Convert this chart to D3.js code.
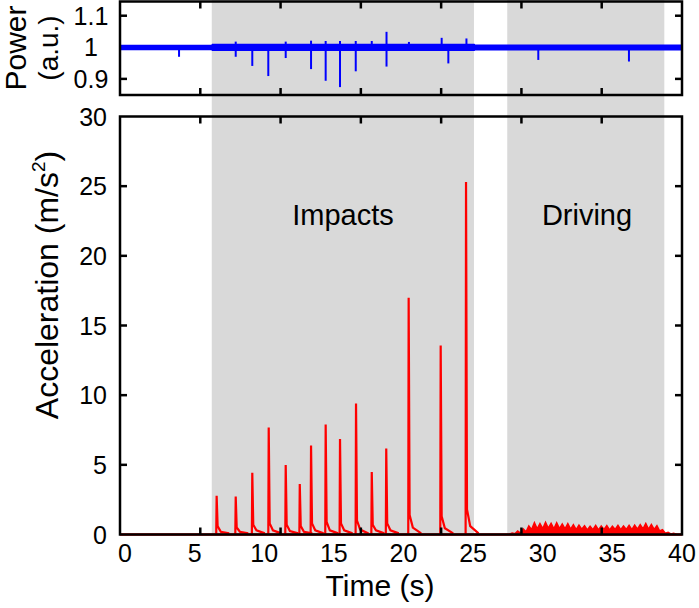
<!DOCTYPE html>
<html>
<head>
<meta charset="utf-8">
<script src="https://cdn.jsdelivr.net/npm/d3@7"></script>
<style>
  body { margin: 0; background: #fff; }
  text { font-family: "Liberation Sans", Arial, sans-serif; fill: #000; }
</style>
</head>
<body>
<div id="canvas"></div>
<script>
// ---- data ----
var xTickLabels = [0, 5, 10, 15, 20, 25, 30, 35, 40];
var accTickLabels = [0, 5, 10, 15, 20, 25, 30];
var powTickLabels = [0.9, 1, 1.1];

// shaded phases (s)
var phaseNames = ['Impacts', 'Driving'];
var phaseStart = [6.23, 27.45];
var phaseEnd = [25.06, 38.73];

// impact spikes: time, peak, tail just after, tail later
var impactT = [6.58, 7.95, 9.14, 10.32, 11.54, 12.55, 13.36, 14.41, 15.44, 16.59, 17.72, 18.76, 20.37, 22.67, 24.49];
var impactPeak = [2.78, 2.73, 4.43, 7.68, 4.98, 3.62, 6.39, 7.9, 6.86, 9.4, 4.48, 6.17, 17.0, 13.57, 25.3];
var impactTailA = [0.6, 0.5, 0.7, 0.8, 0.7, 0.6, 0.8, 0.9, 0.8, 1.0, 0.7, 0.8, 1.4, 1.3, 1.8];
var impactTailB = [0.2, 0.2, 0.3, 0.3, 0.25, 0.2, 0.3, 0.3, 0.3, 0.35, 0.3, 0.3, 0.5, 0.45, 0.6];

// driving vibration, peaks and troughs
var driveT = [27.6, 27.8, 28.0, 28.2, 28.4, 28.6, 28.8, 29.0, 29.2, 29.4, 29.6, 29.8, 30.0, 30.2, 30.4, 30.6, 30.8, 31.0, 31.2, 31.4,
              31.6, 31.8, 32.0, 32.2, 32.4, 32.6, 32.8, 33.0, 33.2, 33.4, 33.6, 33.8, 34.0, 34.2, 34.4, 34.6, 34.8, 35.0, 35.2, 35.4,
              35.6, 35.8, 36.0, 36.2, 36.4, 36.6, 36.8, 37.0, 37.2, 37.4, 37.6, 37.8, 38.0, 38.2, 38.4, 38.6, 38.8, 39.0, 39.2, 39.4, 39.6];
var driveA = [0.02, 0.1, 0.05, 0.25, 0.1, 0.4, 0.2, 0.62, 0.35, 0.85, 0.4, 0.78, 0.42, 0.88, 0.45, 0.8, 0.4, 0.84, 0.42, 0.76,
              0.4, 0.78, 0.38, 0.7, 0.35, 0.68, 0.38, 0.63, 0.33, 0.6, 0.35, 0.66, 0.33, 0.61, 0.36, 0.64, 0.33, 0.6, 0.36, 0.65,
              0.34, 0.61, 0.36, 0.66, 0.35, 0.67, 0.38, 0.7, 0.4, 0.8, 0.38, 0.72, 0.36, 0.64, 0.25, 0.35, 0.1, 0.15, 0.04, 0.08, 0.02];

// optical power: noise band and spikes
var powBandT  = [-0.36, 6.2, 6.25, 25.1, 25.15, 40];
var powBandLo = [0.991, 0.991, 0.988, 0.988, 0.99, 0.99];
var powBandHi = [1.008, 1.008, 1.011, 1.011, 1.009, 1.009];
var powSpikeT  = [3.88, 7.95, 9.14, 10.29, 11.54, 13.36, 14.41, 15.44, 16.57, 17.72, 18.78, 20.39, 22.74, 23.22, 24.52, 29.68, 36.19];
var powSpikeLo = [0.97, 0.97, 0.941, 0.909, 0.966, 0.931, 0.894, 0.874, 0.924, 0.99, 0.939, 0.99, 0.99, 0.949, 0.99, 0.96, 0.955];
var powSpikeHi = [1.0, 1.018, 1.0, 1.0, 1.018, 1.021, 1.02, 1.02, 1.02, 1.02, 1.049, 1.017, 1.03, 1.0, 1.028, 1.0, 1.0];

// ---- layout ----
var W = 699, H = 608;
var left = 120, right = 682;
var topP = {t: 1.5, b: 95};
var botP = {t: 116.5, b: 534.5};

var svg = d3.select('#canvas').append('svg')
    .attr('width', W).attr('height', H);

var x = d3.scaleLinear().domain([-0.36, 40]).range([left, right]);
// the inner tick marks follow their own 5 s grid over the frame
var xTick = d3.scaleLinear().domain([0, 35]).range([left, right]);
var yAcc = d3.scaleLinear().domain([0, 30]).range([botP.b, botP.t]);
var yPow = d3.scaleLinear().domain([0.849, 1.145]).range([topP.b, topP.t]);

// shaded phases across both panels
svg.selectAll('.phase')
    .data(phaseStart)
    .enter().append('rect')
    .attr('class', 'phase')
    .attr('x', function(d){ return x(d); })
    .attr('width', function(d, i){ return x(phaseEnd[i]) - x(d); })
    .attr('y', 0)
    .attr('height', botP.b)
    .attr('fill', '#d9d9d9');

// ---- top panel: power ----
var gTop = svg.append('g');
var band = powBandT.map(function(t, i){ return {t: t, lo: powBandLo[i], hi: powBandHi[i]}; });
gTop.append('path')
    .datum(band)
    .attr('d', d3.area()
        .x(function(d){ return x(d.t); })
        .y0(function(d){ return yPow(d.lo); })
        .y1(function(d){ return yPow(d.hi); }))
    .attr('fill', '#0000ff');
gTop.selectAll('.pspike')
    .data(powSpikeT)
    .enter().append('line')
    .attr('x1', function(d){ return x(d); })
    .attr('x2', function(d){ return x(d); })
    .attr('y1', function(d, i){ return yPow(powSpikeLo[i]); })
    .attr('y2', function(d, i){ return yPow(powSpikeHi[i]); })
    .attr('stroke', '#0000ff')
    .attr('stroke-width', 2);

// ---- bottom panel: acceleration ----
var gBot = svg.append('g');
gBot.append('line')
    .attr('x1', x(-0.36)).attr('x2', x(40))
    .attr('y1', yAcc(0)).attr('y2', yAcc(0))
    .attr('stroke', '#ff0000').attr('stroke-width', 2.5);

var accLine = d3.line()
    .x(function(d){ return x(d[0]); })
    .y(function(d){ return yAcc(d[1]); });

impactT.forEach(function(t, i){
    var pts = [[t - 0.03, 0], [t, impactPeak[i]], [t + 0.07, impactTailA[i]],
               [t + 0.3, impactTailB[i]], [t + 0.9, 0.08]];
    gBot.append('path')
        .attr('d', accLine(pts))
        .attr('fill', 'none')
        .attr('stroke', '#ff0000')
        .attr('stroke-width', 2.2);
});

var drive = driveT.map(function(t, i){ return [t, driveA[i]]; });
gBot.append('path')
    .attr('d', d3.area()
        .x(function(d){ return x(d[0]); })
        .y0(yAcc(0))
        .y1(function(d){ return yAcc(d[1]); })(drive))
    .attr('fill', '#ff0000');
gBot.append('path')
    .attr('d', accLine(drive))
    .attr('fill', 'none')
    .attr('stroke', '#ff0000')
    .attr('stroke-width', 1.5);

// ---- frames and ticks ----
function frame(y0, y1, yScale, yTicks){
    svg.append('rect')
        .attr('x', left).attr('y', y0)
        .attr('width', right - left).attr('height', y1 - y0)
        .attr('fill', 'none').attr('stroke', '#000').attr('stroke-width', 2.5);
    var tk = xTick.ticks(7).filter(function(d){ return d > 0 && d < 35; });
    svg.append('g').selectAll('line').data(tk).enter().append('line')
        .attr('x1', function(d){ return xTick(d); }).attr('x2', function(d){ return xTick(d); })
        .attr('y1', y0).attr('y2', y0 + 7)
        .attr('stroke', '#000').attr('stroke-width', 2.5);
    svg.append('g').selectAll('line').data(tk).enter().append('line')
        .attr('x1', function(d){ return xTick(d); }).attr('x2', function(d){ return xTick(d); })
        .attr('y1', y1).attr('y2', y1 - 7)
        .attr('stroke', '#000').attr('stroke-width', 2.5);
    svg.append('g').selectAll('line').data(yTicks).enter().append('line')
        .attr('x1', left).attr('x2', left + 7)
        .attr('y1', function(d){ return yScale(d); }).attr('y2', function(d){ return yScale(d); })
        .attr('stroke', '#000').attr('stroke-width', 2.5);
    svg.append('g').selectAll('line').data(yTicks).enter().append('line')
        .attr('x1', right).attr('x2', right - 7)
        .attr('y1', function(d){ return yScale(d); }).attr('y2', function(d){ return yScale(d); })
        .attr('stroke', '#000').attr('stroke-width', 2.5);
}
frame(topP.t, topP.b, yPow, [0.9, 1.1]);
frame(botP.t, botP.b, yAcc, accTickLabels.filter(function(d){ return d > 0 && d < 30; }));

// ---- labels ----
svg.append('g').selectAll('text').data(xTickLabels).enter().append('text')
    .attr('x', function(d){ return x(d); })
    .attr('y', 562)
    .attr('text-anchor', 'middle')
    .attr('font-size', 25)
    .text(function(d){ return d; });

svg.append('g').selectAll('text').data(accTickLabels).enter().append('text')
    .attr('x', 107)
    .attr('y', function(d){ return yAcc(d) + 9; })
    .attr('text-anchor', 'end')
    .attr('font-size', 25)
    .text(function(d){ return d; });

svg.append('g').selectAll('text').data(powTickLabels).enter().append('text')
    .attr('x', 91)
    .attr('y', function(d){ return yPow(d) + 9; })
    .attr('text-anchor', 'middle')
    .attr('font-size', 25)
    .text(function(d){ return d; });

svg.append('text')
    .attr('x', 380).attr('y', 596)
    .attr('text-anchor', 'middle').attr('font-size', 30)
    .text('Time (s)');

var accTitle = svg.append('text')
    .attr('transform', 'translate(58,285) rotate(-90)')
    .attr('text-anchor', 'middle').attr('font-size', 32);
accTitle.append('tspan').text('Acceleration (m/s');
accTitle.append('tspan').attr('font-size', 19).attr('dy', -13).text('2');
accTitle.append('tspan').attr('dy', 13).text(')');

svg.append('text')
    .attr('transform', 'translate(26,48) rotate(-90)')
    .attr('text-anchor', 'middle').attr('font-size', 30)
    .text('Power');
svg.append('text')
    .attr('transform', 'translate(58,48) rotate(-90)')
    .attr('text-anchor', 'middle').attr('font-size', 28)
    .text('(a.u.)');

svg.selectAll('.phaseLabel')
    .data(phaseNames)
    .enter().append('text')
    .attr('x', function(d, i){ return i === 0 ? 343 : 587; })
    .attr('y', 225)
    .attr('text-anchor', 'middle')
    .attr('font-size', 29)
    .text(function(d){ return d; });
</script>
</body>
</html>
